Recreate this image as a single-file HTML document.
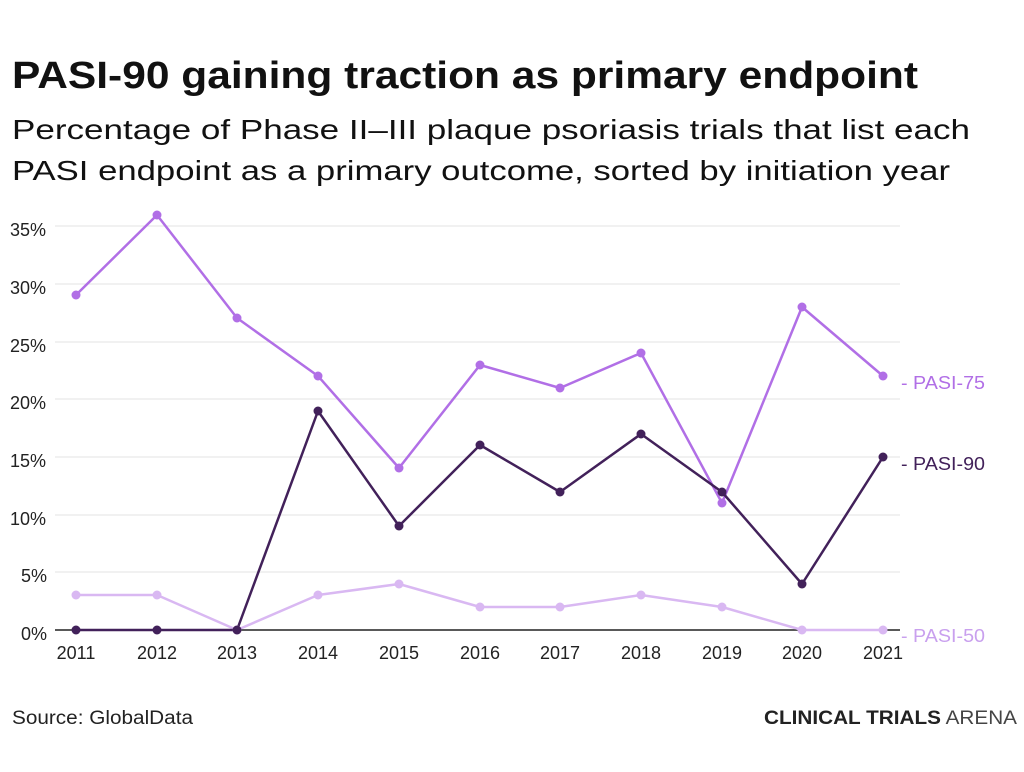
<!DOCTYPE html>
<html><head><meta charset="utf-8"><style>
body{margin:0;background:#fff;width:1024px;height:767px;overflow:hidden;font-family:"Liberation Sans",sans-serif}
</style></head><body>
<svg width="1024" height="767" xmlns="http://www.w3.org/2000/svg" font-family="Liberation Sans, sans-serif">
<text x="12" y="88" font-size="38" font-weight="bold" fill="#111" textLength="906" lengthAdjust="spacingAndGlyphs">PASI-90 gaining traction as primary endpoint</text>
<text x="12" y="139" font-size="28" fill="#111" textLength="958" lengthAdjust="spacingAndGlyphs">Percentage of Phase II–III plaque psoriasis trials that list each</text>
<text x="12" y="180" font-size="28" fill="#111" textLength="938" lengthAdjust="spacingAndGlyphs">PASI endpoint as a primary outcome, sorted by initiation year</text>
<g stroke="#e3e3e3" stroke-width="1">
<line x1="55" x2="900" y1="226" y2="226"/><line x1="55" x2="900" y1="284" y2="284"/>
<line x1="55" x2="900" y1="342" y2="342"/><line x1="55" x2="900" y1="399" y2="399"/>
<line x1="55" x2="900" y1="457" y2="457"/><line x1="55" x2="900" y1="515" y2="515"/>
<line x1="55" x2="900" y1="572" y2="572"/>
</g>
<line x1="55" x2="900" y1="630" y2="630" stroke="#222" stroke-width="1.5"/>
<g font-size="18" fill="#222">
<text x="10" y="236">35%</text><text x="10" y="294">30%</text><text x="10" y="352">25%</text>
<text x="10" y="409">20%</text><text x="10" y="467">15%</text><text x="10" y="525">10%</text>
<text x="21" y="582">5%</text><text x="21" y="640">0%</text>
</g>
<g font-size="18" fill="#222" text-anchor="middle">
<text x="76" y="659">2011</text><text x="157" y="659">2012</text><text x="237" y="659">2013</text>
<text x="318" y="659">2014</text><text x="399" y="659">2015</text><text x="480" y="659">2016</text>
<text x="560" y="659">2017</text><text x="641" y="659">2018</text><text x="722" y="659">2019</text>
<text x="802" y="659">2020</text><text x="883" y="659">2021</text>
</g>
<g fill="none" stroke-width="2.5" stroke-linejoin="round">
<polyline stroke="#d9b8f2" points="76,595 157,595 237,630 318,595 399,584 480,607 560,607 641,595 722,607 802,630 883,630"/>
<polyline stroke="#b16fe6" points="76,295 157,215 237,318 318,376 399,468 480,365 560,388 641,353 722,503 802,307 883,376"/>
<polyline stroke="#42215a" points="76,630 157,630 237,630 318,411 399,526 480,445 560,492 641,434 722,492 802,584 883,457"/>
</g>
<g fill="#d9b8f2"><circle cx="76" cy="595" r="4.5"/><circle cx="157" cy="595" r="4.5"/><circle cx="237" cy="630" r="4.5"/><circle cx="318" cy="595" r="4.5"/><circle cx="399" cy="584" r="4.5"/><circle cx="480" cy="607" r="4.5"/><circle cx="560" cy="607" r="4.5"/><circle cx="641" cy="595" r="4.5"/><circle cx="722" cy="607" r="4.5"/><circle cx="802" cy="630" r="4.5"/><circle cx="883" cy="630" r="4.5"/></g>
<g fill="#b16fe6"><circle cx="76" cy="295" r="4.5"/><circle cx="157" cy="215" r="4.5"/><circle cx="237" cy="318" r="4.5"/><circle cx="318" cy="376" r="4.5"/><circle cx="399" cy="468" r="4.5"/><circle cx="480" cy="365" r="4.5"/><circle cx="560" cy="388" r="4.5"/><circle cx="641" cy="353" r="4.5"/><circle cx="722" cy="503" r="4.5"/><circle cx="802" cy="307" r="4.5"/><circle cx="883" cy="376" r="4.5"/></g>
<g fill="#42215a"><circle cx="76" cy="630" r="4.5"/><circle cx="157" cy="630" r="4.5"/><circle cx="237" cy="630" r="4.5"/><circle cx="318" cy="411" r="4.5"/><circle cx="399" cy="526" r="4.5"/><circle cx="480" cy="445" r="4.5"/><circle cx="560" cy="492" r="4.5"/><circle cx="641" cy="434" r="4.5"/><circle cx="722" cy="492" r="4.5"/><circle cx="802" cy="584" r="4.5"/><circle cx="883" cy="457" r="4.5"/></g>
<g font-size="18">
<text x="901" y="389" fill="#b16fe6" textLength="84" lengthAdjust="spacingAndGlyphs">- PASI-75</text>
<text x="901" y="470" fill="#42215a" textLength="84" lengthAdjust="spacingAndGlyphs">- PASI-90</text>
<text x="901" y="642" fill="#c9a0ee" textLength="84" lengthAdjust="spacingAndGlyphs">- PASI-50</text>
</g>
<text x="12" y="724" font-size="19" fill="#222" textLength="181" lengthAdjust="spacingAndGlyphs">Source: GlobalData</text>
<text x="764" y="724" font-size="19" fill="#222" textLength="253" lengthAdjust="spacingAndGlyphs"><tspan font-weight="bold">CLINICAL TRIALS</tspan><tspan fill="#444"> ARENA</tspan></text>
</svg>
</body></html>
